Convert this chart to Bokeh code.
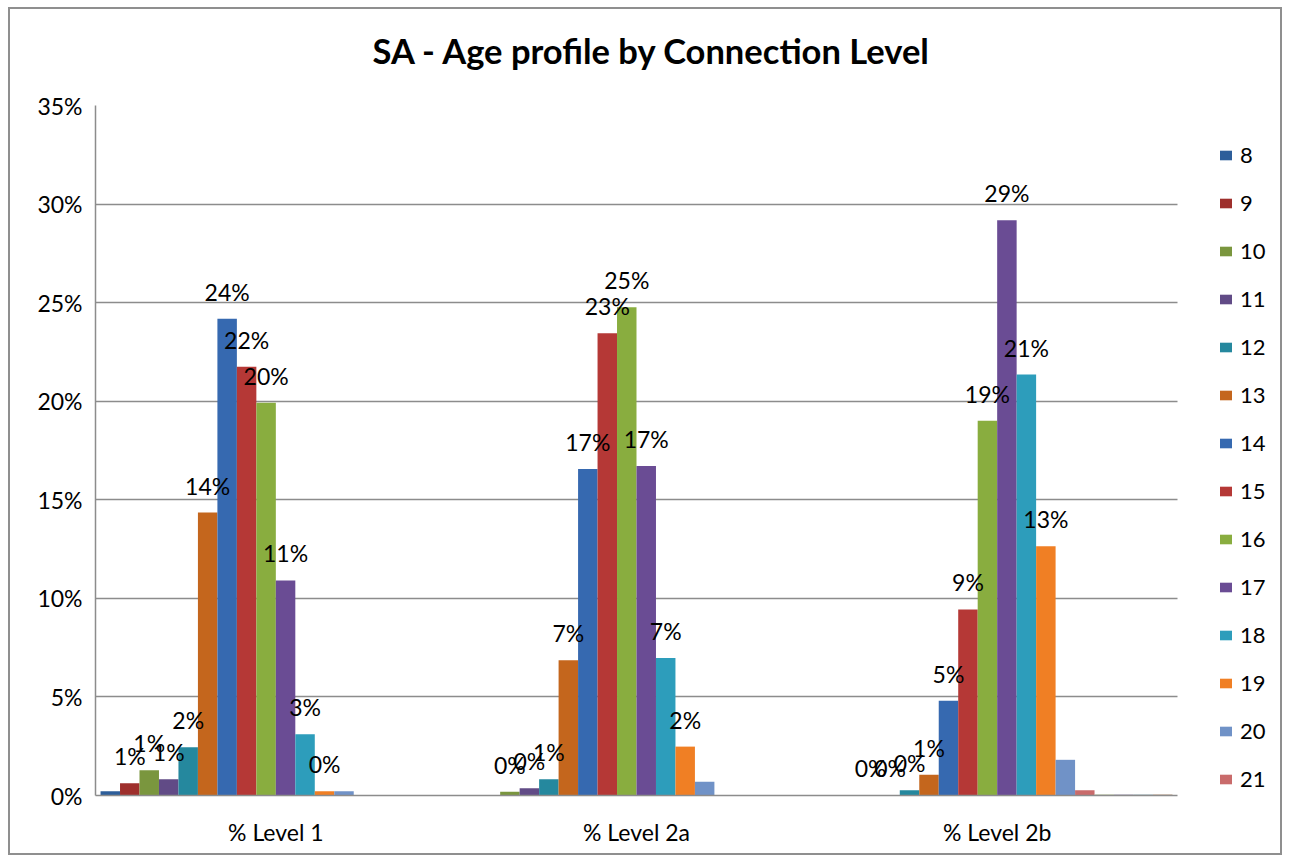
from bokeh.plotting import figure
from bokeh.models import (Range1d, ColumnDataSource, FixedTicker, Title,
                          PrintfTickFormatter, Legend, LegendItem)
from bokeh.transform import dodge
from bokeh.core.properties import value
from bokeh.embed import file_html
from bokeh.resources import INLINE

# ---------------- data ----------------
categories = ["% Level 1", "% Level 2a", "% Level 2b"]

ages = ["8", "9", "10", "11", "12", "13", "14", "15", "16", "17", "18", "19", "20", "21",
        "22", "23", "24", "25"]
legend_ages = ["8", "9", "10", "11", "12", "13", "14", "15", "16", "17", "18", "19", "20", "21"]
labelled_ages = ["9", "10", "11", "12", "13", "14", "15", "16", "17", "18", "19"]

# percent values per age, for [Level 1, Level 2a, Level 2b]; None = no value
age_8 = [0.22, None, 0.02]
age_9 = [0.62, None, None]
age_10 = [1.28, 0.19, 0.03]
age_11 = [0.83, 0.37, 0.03]
age_12 = [2.45, 0.82, 0.26]
age_13 = [14.35, 6.86, 1.05]
age_14 = [24.18, 16.56, 4.81]
age_15 = [21.75, 23.45, 9.44]
age_16 = [19.92, 24.77, 19.01]
age_17 = [10.91, 16.71, 29.18]
age_18 = [3.11, 6.98, 21.35]
age_19 = [0.22, 2.48, 12.64]
age_20 = [0.22, 0.70, 1.81]
age_21 = [None, None, 0.26]
age_22 = [None, None, 0.05]
age_23 = [None, None, 0.05]
age_24 = [None, None, 0.05]
age_25 = [None, None, 0.05]

series_values = [age_8, age_9, age_10, age_11, age_12, age_13, age_14, age_15, age_16,
                 age_17, age_18, age_19, age_20, age_21, age_22, age_23, age_24, age_25]

colors = ["#2d5e9a", "#9e2f2c", "#7a963e", "#614b86", "#25889e", "#c4661d", "#3669b0",
          "#b53836", "#89ad3f", "#6a4c94", "#2d9dbb", "#f07f24", "#7092c7", "#c96b6b",
          "#a9b88c", "#9a92ae", "#8fa9b4", "#b8957a"]

y_ticks = [0, 5, 10, 15, 20, 25, 30, 35]

# ---------------- layout ----------------
FONT = "Lato"
W, H = 1274, 848
BL, BT, BB = 85, 96, 62
PLOT_W = 1082                      # width used by the category area
frame_w = W - BL
n_cat = len(categories)
cat_x = [i + 0.5 for i in range(n_cat)]
x_end = n_cat * frame_w / PLOT_W   # extra room on the right for the legend

p = figure(x_range=Range1d(0, x_end), y_range=Range1d(0, 35),
           width=W, height=H, output_backend="svg", toolbar_location=None,
           min_border_left=BL, min_border_right=0, min_border_top=BT,
           min_border_bottom=BB)
p.styles = {"border": "2px solid #8f8f8f", "margin-left": "8px", "margin-top": "7px"}

p.title.text = "SA - Age profile by Connection Level"
p.title.align = "left"
p.title.offset = 277
p.title.text_font = FONT
p.title.text_font_style = "bold"
p.title.text_font_size = "34.5px"
p.title.text_color = "#000000"
p.title.vertical_align = "middle"
p.title.standoff = 0

# empty spacer panel between the title and the plot area
p.add_layout(Title(text=" ", text_font_size="1px", standoff=31), "above")

p.outline_line_color = None
p.background_fill_color = "white"
p.border_fill_color = "white"

# y axis
p.yaxis.ticker = FixedTicker(ticks=y_ticks)
p.yaxis.formatter = PrintfTickFormatter(format="%d%%")
p.yaxis.major_label_text_font = FONT
p.yaxis.major_label_text_font_size = "23px"
p.yaxis.major_label_text_color = "#000000"
p.yaxis.major_label_standoff = 13
p.yaxis.major_tick_out = 0
p.yaxis.major_tick_in = 0
p.yaxis.minor_tick_out = 0
p.yaxis.minor_tick_in = 0
p.yaxis.axis_line_color = "#8c8c8c"
p.yaxis.axis_line_width = 1.5

# x axis (categories at the centre of each unit)
p.xaxis.ticker = FixedTicker(ticks=cat_x)
p.xaxis.major_label_overrides = {x: c for x, c in zip(cat_x, categories)}
p.xaxis.bounds = (0, n_cat)
p.xaxis.major_label_text_font = FONT
p.xaxis.major_label_text_font_size = "23px"
p.xaxis.major_label_text_color = "#000000"
p.xaxis.major_label_standoff = 22
p.xaxis.major_tick_out = 0
p.xaxis.major_tick_in = 0
p.xaxis.minor_tick_out = 0
p.xaxis.minor_tick_in = 0
p.xaxis.axis_line_color = "#8c8c8c"
p.xaxis.axis_line_width = 1.5

p.xgrid.grid_line_color = None
grid = p.ygrid[0]
if hasattr(grid, "cross_bounds"):
    grid.cross_bounds = (0, n_cat)
    grid.grid_line_color = "#8c8c8c"
    grid.grid_line_width = 1.5
else:
    grid.grid_line_color = None
    p.segment(x0=[0] * len(y_ticks), x1=[n_cat] * len(y_ticks), y0=y_ticks, y1=y_ticks,
              line_color="#8c8c8c", line_width=1.5)

# bars
n = len(ages)
bar_w = 0.054
renderers = {}
label_sources = []
for j, (age, vals, col) in enumerate(zip(ages, series_values, colors)):
    offset = (j - (n - 1) / 2) * bar_w
    tops = [float("nan") if v is None else v for v in vals]
    labs = ["" if (v is None or age not in labelled_ages) else f"{v:.0f}%" for v in vals]
    src = ColumnDataSource(data=dict(x=cat_x, top=tops, lab=labs))
    r = p.vbar(x=dodge("x", offset), top="top", bottom=0,
               width=bar_w, source=src, fill_color=col, line_color=None)
    renderers[age] = r
    label_sources.append((offset, src))

for offset, src in label_sources:
    p.text(x=dodge("x", offset), y="top", text="lab", source=src,
           text_font=value(FONT), text_font_size="23px", text_color="#000000",
           text_align="center", text_baseline="alphabetic", y_offset=-27)

legend = Legend(items=[LegendItem(label=a, renderers=[renderers[a]]) for a in legend_ages],
                location=(1123, 3), orientation="vertical")
legend.label_text_font = FONT
legend.label_text_font_size = "22px"
legend.label_text_color = "#000000"
legend.glyph_width = 15
legend.glyph_height = 12
legend.label_height = 27
legend.label_standoff = 7
legend.spacing = 21
legend.padding = 0
legend.margin = 0
legend.border_line_color = None
legend.background_fill_alpha = 0
p.add_layout(legend, "center")

open("out.html", "w").write(file_html(p, INLINE))
